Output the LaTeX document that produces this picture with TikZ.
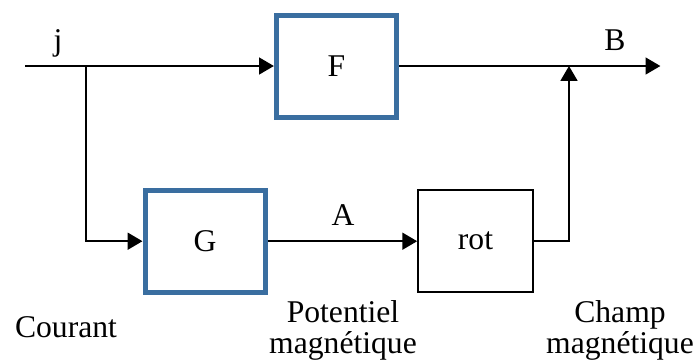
\documentclass[tikz,border=0pt]{standalone}
\usepackage{fontspec}
\setmainfont{Liberation Serif}
\usepackage{xcolor}
\usetikzlibrary{arrows.meta}

\definecolor{boxblue}{RGB}{58,110,160}

\begin{document}
\begin{tikzpicture}[font=\fontsize{22.5}{22}\selectfont,
    line width=0.05cm,
    sig/.style={-{Triangle[length=0.37cm,width=0.42cm]}},
    opblue/.style={draw=boxblue, line width=0.125cm, minimum width=3cm, minimum height=2.55cm},
    opblack/.style={draw=black, line width=0.04cm, minimum width=2.875cm, minimum height=2.55cm}]
      % 1 cm = 40 px of the sketch
      \useasboundingbox (0,0) rectangle (17.425,-9.025);
      \coordinate (in)    at (0.625,-1.65);
      \coordinate (split) at (2.15,-1.65);
      \coordinate (join)  at (14.225,-1.65);
      \coordinate (out)   at (16.51,-1.65);
      \node[opblue]  (F)   at (8.41,-1.65)   {F};
      \node[opblue]  (G)   at (5.125,-6.03)  {G};
      \node[opblack] (rot) at (11.8875,-6.03) {rot};
      \draw[sig] (in) -- (F.west);
      \draw[sig] (F.east) -- (out);
      \draw[sig] (split) |- (G.west);
      \draw[sig] (G.east) -- (rot.west);
      \draw[sig] (rot.east) -| (join);
      % signal names
      \node[anchor=base] (lj) at (1.45,-1.25)   {j};
      \node[anchor=base] (lB) at (15.375,-1.25) {B};
      \node[anchor=base] (lA) at (8.575,-5.625) {A};
      \node[anchor=base] (courant) at (1.65,-8.425) {Courant};
      % base = last line
      \node[anchor=base, align=center] (potentiel) at (8.575,-8.825) {Potentiel\\magnétique};
      \node[anchor=base, align=center] (champ) at (15.5,-8.825) {Champ\\magnétique};
    \end{tikzpicture}
\end{document}
